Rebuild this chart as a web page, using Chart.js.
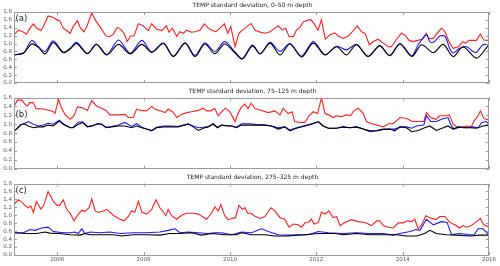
<!DOCTYPE html>
<html>
<head>
<meta charset="utf-8">
<script src="https://cdn.jsdelivr.net/npm/chart.js@4.4.0/dist/chart.umd.min.js"></script>
<style>
  body { margin: 0; background: #fff; }
  #wrap { position: relative; width: 500px; height: 266px; }
  #wrap canvas { position: absolute; left: 0; }
</style>
</head>
<body>
<div id="wrap">
  <canvas id="panelA" width="500" height="90" style="top:0px"></canvas>
  <canvas id="panelB" width="500" height="90" style="top:84px"></canvas>
  <canvas id="panelC" width="500" height="92" style="top:174px"></canvas>
</div>
<script>
const yearTicks = [2006, 2008, 2010, 2012, 2014, 2016];
const panelTitles = [
    'TEMP standard deviation, 0\u201350 m depth',
    'TEMP standard deviation, 75\u2013125 m depth',
    'TEMP standard deviation, 275\u2013325 m depth'
];
const panelLabels = ['(a)', '(b)', '(c)'];
const panelMax = [1.8, 1.6, 1.8];

// (a) 0-50 m
const redA_years = [2005.00,2005.10,2005.20,2005.29,2005.37,2005.45,2005.52,2005.62,2005.68,2005.79,2005.91,2006.00,2006.06,2006.14,2006.22,2006.30,2006.37,2006.47,2006.54,2006.62,2006.70,2006.80,2006.88,2006.99,2007.13,2007.22,2007.30,2007.39,2007.47,2007.55,2007.62,2007.70,2007.78,2007.88,2007.99,2008.11,2008.19,2008.30,2008.42,2008.53,
    2008.59,2008.67,2008.77,2008.84,2008.92,2009.00,2009.10,2009.19,2009.31,2009.41,2009.50,2009.58,2009.67,2009.77,2009.87,2009.95,2010.02,2010.12,2010.21,2010.29,2010.39,2010.49,2010.58,2010.70,2010.81,2010.93,2011.04,2011.12,2011.21,2011.29,2011.37,2011.47,2011.54,2011.62,2011.70,2011.77,2011.87,2011.95,2012.04,2012.12,2012.21,2012.31,
    2012.43,2012.51,2012.62,2012.74,2012.86,2012.95,2013.05,2013.13,2013.23,2013.32,2013.43,2013.55,2013.67,2013.74,2013.86,2013.97,2014.05,2014.15,2014.24,2014.34,2014.46,2014.55,2014.61,2014.71,2014.80,2014.90,2014.98,2015.09,2015.17,2015.29,2015.39,2015.46,2015.54,2015.62,2015.71,2015.80,2015.88,2016.00];
const redA = [1.22,1.34,1.30,1.24,1.39,1.50,1.39,1.33,1.43,1.70,1.66,1.60,1.58,1.39,1.33,1.26,1.43,1.58,1.39,1.30,1.47,1.78,1.60,1.43,1.19,1.18,1.24,1.41,1.36,1.26,1.05,1.19,1.19,1.50,1.45,1.33,1.50,1.36,1.33,1.45,
    1.29,1.39,1.18,1.30,1.26,1.34,1.29,1.30,1.34,1.50,1.39,1.34,1.30,1.39,1.50,1.26,1.43,0.92,1.26,1.34,1.43,1.51,1.34,1.29,1.26,1.30,1.39,1.45,1.34,1.39,1.18,1.18,1.34,1.41,1.55,1.58,1.61,1.50,1.34,1.60,1.11,1.22,
    1.27,1.19,1.13,1.19,1.33,1.45,1.30,1.26,0.97,1.05,1.11,1.01,0.92,0.92,1.11,1.26,1.22,1.08,1.05,1.08,1.11,1.26,1.13,1.13,1.26,1.39,1.30,1.01,0.88,0.92,1.05,1.01,1.08,1.08,1.08,1.24,1.09,1.08];
const blueA_years = [2005.02,2005.22,2005.41,2005.56,2005.72,2005.91,2006.14,2006.30,2006.45,2006.70,2006.91,2007.15,2007.42,2007.69,2007.96,2008.19,2008.46,
    2008.69,2008.96,2009.19,2009.42,2009.65,2009.88,2010.12,2010.29,2010.52,2010.70,2010.93,2011.16,2011.39,2011.66,2011.93,2012.20,
    2012.47,2012.70,2012.93,2013.20,2013.47,2013.70,2013.94,2014.21,2014.36,2014.55,2014.63,2014.71,2014.86,2014.98,2015.09,2015.17,2015.32,2015.48,2015.63,2015.71,2015.86,2016.00];
const blueA = [0.72,0.76,1.08,0.92,0.80,1.07,0.78,0.88,1.03,0.75,0.99,0.72,1.09,0.75,1.08,0.79,1.01,
    0.68,1.02,0.70,1.02,0.80,1.05,0.78,0.62,0.96,0.74,1.03,0.80,1.00,0.68,1.05,0.72,
    0.93,0.84,0.98,0.68,0.95,0.70,1.00,0.69,0.97,1.22,1.05,1.03,1.19,1.18,0.88,0.76,0.88,0.92,0.80,0.78,0.97,0.97];
const blackA_years = [2005.02,2005.22,2005.41,2005.56,2005.72,2005.91,2006.14,2006.30,2006.45,2006.70,2006.91,2007.15,2007.42,2007.69,2007.96,2008.19,2008.46,
    2008.69,2008.96,2009.19,2009.42,2009.65,2009.88,2010.12,2010.29,2010.52,2010.70,2010.93,2011.16,2011.39,2011.66,2011.93,2012.20,
    2012.47,2012.70,2012.93,2013.20,2013.47,2013.70,2013.94,2014.21,2014.44,2014.71,2014.94,2015.17,2015.40,2015.71,2015.98];
const blackA = [0.71,0.76,0.99,0.91,0.74,1.03,0.77,0.86,1.00,0.74,0.98,0.71,0.98,0.74,0.98,0.78,1.00,
    0.67,1.01,0.67,0.99,0.74,0.99,0.76,0.61,0.94,0.74,1.01,0.71,0.99,0.66,1.01,0.71,
    0.92,0.71,0.97,0.67,0.94,0.69,0.99,0.67,0.97,0.77,0.98,0.67,0.92,0.63,0.95];

// (b) 75-125 m
const redB_years = [2005.00,2005.08,2005.18,2005.25,2005.31,2005.37,2005.45,2005.51,2005.68,2005.83,2005.91,2005.95,2006.03,2006.10,2006.18,2006.30,2006.39,2006.47,2006.59,2006.70,2006.80,2006.91,2007.03,2007.13,2007.22,2007.42,2007.57,2007.65,2007.76,2007.84,2007.93,2008.07,2008.19,2008.26,2008.38,2008.50,
    2008.57,2008.67,2008.77,2008.88,2009.00,2009.11,2009.27,2009.38,2009.46,2009.56,2009.65,2009.73,2009.81,2009.90,2010.00,2010.12,2010.18,2010.25,2010.35,2010.42,2010.49,2010.58,2010.73,2010.89,2011.04,2011.16,2011.23,2011.35,2011.44,2011.50,2011.62,2011.74,2011.83,2011.93,2012.03,2012.12,2012.20,2012.29,
    2012.39,2012.47,2012.59,2012.70,2012.79,2012.87,2012.97,2013.09,2013.16,2013.28,2013.40,2013.55,2013.67,2013.78,2013.94,2014.09,2014.23,2014.38,2014.49,2014.55,2014.65,2014.77,2014.86,2014.98,2015.08,2015.17,2015.29,2015.40,2015.49,2015.59,2015.65,2015.75,2015.80,2015.88,2016.00];
const redB = [1.40,1.54,1.54,1.45,1.41,1.49,1.48,1.35,1.34,1.31,1.28,1.24,1.56,1.37,1.22,1.11,1.19,1.39,1.37,1.31,1.53,1.41,1.36,1.31,1.21,1.21,1.22,1.15,1.15,1.34,1.31,1.30,1.40,1.34,1.30,1.26,
    1.34,1.28,1.15,1.22,1.26,1.28,1.31,1.36,1.30,1.30,1.35,1.19,1.28,1.36,1.28,1.06,1.22,1.36,1.45,1.35,1.47,1.35,1.31,1.26,1.30,1.21,1.36,1.24,1.28,1.06,1.04,1.04,1.19,1.28,1.24,1.60,1.24,1.21,
    1.15,1.19,1.17,1.21,1.19,1.30,1.36,1.24,1.06,1.01,0.98,0.94,1.01,1.01,1.15,1.13,1.06,1.06,1.06,1.26,1.15,1.11,1.19,1.19,1.21,1.00,0.92,0.94,0.96,0.94,1.07,1.19,1.30,1.13,1.09];
const blueB_years = [2005.00,2005.06,2005.15,2005.23,2005.33,2005.45,2005.56,2005.68,2005.79,2005.91,2006.05,2006.14,2006.30,2006.37,2006.49,2006.59,2006.70,2006.82,2006.93,2007.03,2007.13,2007.26,2007.42,2007.57,2007.72,2007.84,2007.96,2008.07,2008.19,2008.30,2008.46,
    2008.65,2008.80,2008.96,2009.04,2009.15,2009.27,2009.38,2009.50,2009.61,2009.71,2009.81,2009.92,2010.04,2010.15,2010.27,2010.46,2010.62,2010.81,2010.96,2011.12,2011.27,2011.39,2011.54,2011.74,2011.89,2012.05,2012.16,2012.28,
    2012.47,2012.62,2012.78,2012.93,2013.09,2013.24,2013.40,2013.55,2013.70,2013.82,2013.94,2014.09,2014.21,2014.32,2014.49,2014.55,2014.65,2014.78,2014.94,2015.05,2015.11,2015.19,2015.32,2015.48,2015.63,2015.75,2015.83,2015.94,2016.00];
const blueB = [0.85,0.89,0.98,1.01,1.06,1.00,0.96,0.98,1.02,1.00,1.09,1.01,0.92,0.93,1.05,1.05,0.95,0.97,1.01,1.00,0.93,0.95,0.98,1.04,0.95,1.01,0.93,0.89,0.86,0.93,0.96,
    0.96,0.95,0.99,1.00,0.96,0.92,0.93,0.95,1.00,0.93,0.98,0.97,0.96,0.93,1.01,1.01,0.99,0.98,0.96,0.92,0.94,0.87,0.92,0.97,1.01,1.05,0.96,0.91,
    0.91,0.94,0.92,0.94,0.89,0.83,0.85,0.88,0.89,0.89,0.94,0.94,0.91,0.96,0.98,1.19,1.06,1.06,1.13,1.15,1.00,0.89,0.94,0.92,0.94,0.92,1.04,1.06,1.00];
const blackB_years = [2005.00,2005.06,2005.15,2005.23,2005.33,2005.45,2005.56,2005.68,2005.79,2005.91,2006.05,2006.14,2006.30,2006.37,2006.49,2006.59,2006.70,2006.82,2006.93,2007.03,2007.13,2007.26,2007.42,2007.57,2007.72,2007.84,2007.96,2008.07,2008.19,2008.30,2008.46,
    2008.65,2008.80,2008.96,2009.04,2009.15,2009.27,2009.38,2009.50,2009.61,2009.71,2009.81,2009.92,2010.04,2010.15,2010.27,2010.46,2010.62,2010.81,2010.96,2011.12,2011.27,2011.39,2011.54,2011.74,2011.89,2012.05,2012.16,2012.28,
    2012.47,2012.62,2012.78,2012.93,2013.09,2013.24,2013.40,2013.55,2013.70,2013.82,2013.94,2014.09,2014.21,2014.36,2014.51,2014.63,2014.78,2014.94,2015.05,2015.17,2015.29,2015.40,2015.56,2015.71,2015.86,2016.00];
const blackB = [0.85,0.89,0.98,1.01,0.96,0.92,0.94,0.94,0.98,0.96,1.07,1.00,0.92,0.92,1.00,1.04,0.94,0.96,1.01,1.00,0.92,0.94,0.96,0.96,0.92,0.96,0.92,0.89,0.85,0.92,0.94,
    0.94,0.94,0.98,1.01,0.94,0.86,0.91,0.94,1.01,0.92,0.98,0.96,0.96,0.92,0.98,0.98,0.98,0.98,0.96,0.89,0.94,0.85,0.91,0.96,1.00,1.06,0.96,0.91,
    0.91,0.94,0.92,0.94,0.89,0.85,0.86,0.89,0.89,0.85,0.94,0.92,0.83,0.86,0.92,0.96,0.86,0.92,0.96,0.89,0.94,0.92,0.92,0.91,0.96,0.98];

// (c) 275-325 m
const redC_years = [2005.00,2005.10,2005.18,2005.25,2005.33,2005.39,2005.45,2005.52,2005.62,2005.69,2005.79,2005.91,2006.00,2006.06,2006.14,2006.22,2006.30,2006.39,2006.47,2006.57,2006.64,2006.74,2006.80,2006.88,2006.95,2007.07,2007.15,2007.30,2007.42,2007.55,2007.65,2007.72,2007.80,2007.88,2007.96,2008.07,2008.19,2008.29,2008.38,2008.52,
    2008.57,2008.65,2008.77,2008.88,2009.00,2009.15,2009.27,2009.46,2009.58,2009.65,2009.73,2009.79,2009.88,2009.96,2010.04,2010.13,2010.21,2010.29,2010.35,2010.41,2010.49,2010.56,2010.70,2010.81,2010.95,2011.04,2011.16,2011.27,2011.37,2011.47,2011.58,2011.66,2011.74,2011.81,2011.89,2011.95,2012.05,2012.12,2012.20,2012.29,
    2012.39,2012.47,2012.55,2012.66,2012.82,2012.97,2013.13,2013.28,2013.40,2013.47,2013.55,2013.67,2013.78,2013.90,2014.01,2014.11,2014.21,2014.28,2014.36,2014.44,2014.54,2014.63,2014.77,2014.86,2014.98,2015.09,2015.21,2015.32,2015.40,2015.48,2015.59,2015.71,2015.80,2015.88,2016.00];
const redC = [1.27,1.39,1.33,1.25,1.19,1.23,1.07,1.35,1.16,1.25,1.60,1.35,1.25,1.25,1.39,1.15,1.05,0.86,1.00,1.13,1.10,1.19,1.41,1.11,1.07,1.11,1.15,1.00,0.92,0.86,0.97,1.11,1.08,1.35,1.08,1.03,1.15,1.39,1.19,0.99,
    1.15,0.99,0.90,1.00,1.05,1.05,1.03,0.90,1.07,1.21,1.11,1.27,0.99,0.89,0.92,0.94,1.25,1.15,1.19,1.05,1.05,0.99,0.92,0.97,1.19,1.11,0.94,0.90,0.70,0.78,0.76,0.70,0.81,0.82,0.90,0.78,0.82,1.08,1.03,1.11,
    0.94,0.97,0.74,0.82,0.89,0.84,0.82,0.74,0.86,0.86,0.74,0.70,0.68,0.81,0.81,0.86,0.84,0.90,0.66,0.76,0.99,0.94,0.89,0.97,0.97,0.82,0.76,0.68,0.74,0.70,0.74,0.84,0.92,0.76,0.70];
const blueC_years = [2005.00,2005.22,2005.37,2005.49,2005.64,2005.79,2005.91,2006.14,2006.30,2006.41,2006.49,2006.57,2006.64,2006.76,2006.99,2007.22,2007.45,2007.76,2008.07,2008.38,2008.57,
    2008.73,2008.84,2009.04,2009.27,2009.50,2009.65,2009.81,2010.04,2010.27,2010.50,2010.73,2010.89,2011.12,2011.35,2011.58,2011.81,2012.05,2012.28,
    2012.62,2012.93,2013.24,2013.55,2013.78,2013.94,2014.17,2014.32,2014.40,2014.55,2014.71,2014.90,2015.03,2015.13,2015.32,2015.56,2015.65,2015.75,2015.86,2016.00];
const blueC = [0.56,0.56,0.64,0.62,0.68,0.70,0.59,0.56,0.56,0.58,0.54,0.66,0.54,0.58,0.56,0.58,0.54,0.56,0.56,0.58,0.62,
    0.66,0.56,0.58,0.56,0.54,0.56,0.56,0.51,0.58,0.56,0.66,0.59,0.51,0.50,0.51,0.51,0.59,0.56,
    0.54,0.56,0.54,0.54,0.50,0.54,0.59,0.64,0.62,0.90,0.76,0.84,0.82,0.51,0.54,0.51,0.50,0.66,0.66,0.51];
const blackC_years = [2005.00,2005.29,2005.52,2005.72,2005.83,2006.06,2006.30,2006.53,2006.64,2006.76,2006.99,2007.30,2007.49,2007.76,2008.07,2008.38,2008.60,
    2008.80,2009.11,2009.34,2009.58,2009.88,2010.15,2010.27,2010.50,2010.81,2011.04,2011.35,2011.74,2012.05,2012.43,
    2012.62,2012.93,2013.24,2013.55,2013.86,2014.09,2014.32,2014.51,2014.63,2014.78,2015.02,2015.25,2015.56,2015.79,2016.00];
const blackC = [0.56,0.54,0.54,0.58,0.55,0.54,0.51,0.50,0.54,0.51,0.51,0.51,0.48,0.51,0.51,0.50,0.54,
    0.54,0.56,0.50,0.54,0.51,0.51,0.56,0.51,0.51,0.48,0.48,0.51,0.54,0.54,
    0.51,0.54,0.51,0.51,0.51,0.48,0.48,0.54,0.62,0.54,0.51,0.50,0.48,0.50,0.50];

const pairs = (xs, ys) => xs.map((x, i) => ({x: x, y: ys[i]}));

// frame, inward ticks, title and panel letter
const framePlugin = {
    id: 'frame',
    afterDraw(chart, args, opts) {
        const ctx = chart.ctx;
        const a = chart.chartArea;
        const xs = chart.scales.x, ys = chart.scales.y;
        ctx.save();
        ctx.strokeStyle = '#9a9a9a';
        ctx.lineWidth = 1;
        ctx.strokeRect(Math.round(a.left) + 0.5, Math.round(a.top) + 0.5, Math.round(a.width) - 1, Math.round(a.height) - 1);
        ctx.beginPath();
        ys.ticks.forEach(t => {
            const y = Math.round(ys.getPixelForValue(t.value)) + 0.5;
            ctx.moveTo(a.left, y); ctx.lineTo(a.left + 3, y);
            ctx.moveTo(a.right, y); ctx.lineTo(a.right - 3, y);
        });
        xs.ticks.forEach(t => {
            const x = Math.round(xs.getPixelForValue(t.value)) + 0.5;
            ctx.moveTo(x, a.bottom); ctx.lineTo(x, a.bottom - 3);
            ctx.moveTo(x, a.top); ctx.lineTo(x, a.top + 3);
        });
        ctx.stroke();
        ctx.fillStyle = '#222';
        ctx.textAlign = 'center';
        ctx.textBaseline = 'middle';
        ctx.font = '6px "DejaVu Sans"';
        ctx.fillText(opts.title, (a.left + a.right) / 2 + 1, a.top - 6.5);
        ctx.textAlign = 'left';
        ctx.font = '8.5px "DejaVu Sans"';
        ctx.fillText(opts.label, a.left + 1.5, a.top + opts.labelOffset);
        ctx.restore();
    }
};

function makePanel(id, idx, red, blue, black, opt) {
    new Chart(document.getElementById(id), {
        type: 'line',
        data: {
            datasets: [
                {data: black, borderColor: '#000000', borderWidth: 1.1, pointRadius: 0, tension: opt.tension},
                {data: blue, borderColor: '#1a1aff', borderWidth: 1.1, pointRadius: 0, tension: opt.tension},
                {data: red, borderColor: '#ff2020', borderWidth: 1.1, pointRadius: 0, tension: 0}
            ]
        },
        options: {
            responsive: false,
            animation: false,
            devicePixelRatio: 1,
            layout: {padding: {top: opt.top, bottom: opt.bottom, left: 0, right: 11}},
            plugins: {
                legend: {display: false},
                tooltip: {enabled: false},
                frame: {title: panelTitles[idx], label: panelLabels[idx], labelOffset: opt.labelOffset}
            },
            scales: {
                x: {
                    type: 'linear', min: 2005, max: 2016,
                    grid: {display: false, drawTicks: false}, border: {display: false},
                    afterBuildTicks: s => { s.ticks = yearTicks.map(v => ({value: v})); },
                    afterFit: s => { s.height = opt.showX ? 11 : 0; },
                    ticks: {display: opt.showX, autoSkip: false, maxRotation: 0, padding: 1, color: '#555',
                        font: {family: 'DejaVu Sans', size: 5.5}, callback: v => String(v)}
                },
                y: {
                    min: 0, max: panelMax[idx],
                    grid: {display: false, drawTicks: false}, border: {display: false},
                    afterFit: s => { s.width = 14; },
                    ticks: {stepSize: 0.2, autoSkip: false, padding: 2, color: '#555',
                        font: {family: 'DejaVu Sans', size: 5.5}, callback: v => v.toFixed(1)}
                }
            }
        },
        plugins: [framePlugin]
    });
}

makePanel('panelA', 0, pairs(redA_years, redA), pairs(blueA_years, blueA), pairs(blackA_years, blackA),
    {top: 12, bottom: 7, showX: false, labelOffset: 7, tension: 0.3});
makePanel('panelB', 1, pairs(redB_years, redB), pairs(blueB_years, blueB), pairs(blackB_years, blackB),
    {top: 13.5, bottom: 4.5, showX: false, labelOffset: 17, tension: 0});
makePanel('panelC', 2, pairs(redC_years, redC), pairs(blueC_years, blueC), pairs(blackC_years, blackC),
    {top: 9.5, bottom: 0, showX: true, labelOffset: 7, tension: 0});
</script>
</body>
</html>
